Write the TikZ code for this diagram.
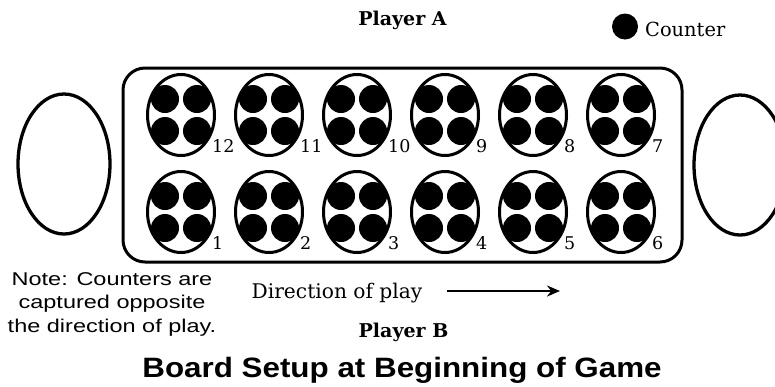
\documentclass[tikz,border=0pt]{standalone}
\usepackage{fontspec}
\setmainfont{DejaVu Serif}
\newfontfamily\notefont[FakeStretch=1.27]{Liberation Sans}
\newfontfamily\titlefont[FakeStretch=1.12]{Liberation Sans}
\usetikzlibrary{shapes.geometric,arrows.meta}
\begin{document}
\begin{tikzpicture}[x=1pt,y=-1pt,
  pit/.style={ellipse, draw, line width=3pt, minimum width=67pt, minimum height=81pt, inner sep=0pt},
  counter/.style={circle, fill, minimum size=28pt, inner sep=0pt},
  store/.style={ellipse, draw, line width=3.3pt, minimum width=92pt, minimum height=140pt, inner sep=0pt},
  num/.style={font=\fontsize{17.5}{17.5}\selectfont, anchor=base west, inner sep=0pt},
  lbl/.style={inner sep=0pt, anchor=base}]
\useasboundingbox (0,0) rectangle (775,386);
% stores
\node[store] (storeL) at (64,164) {};
\node[store] (storeR) at (740,165) {};
% board
\draw[line width=3pt, rounded corners=22pt] (123,68) rectangle (682,262);
% pits
\foreach \i/\tn/\bn in {0/12/1,1/11/2,2/10/3,3/9/4,4/8/5,5/7/6}{
  \pgfmathsetmacro{\cx}{181+88*\i}
  \node[pit] (pit\tn) at (\cx,115) {};
  \node[pit] (pit\bn) at (\cx,212) {};
  \foreach \p in {\tn,\bn}{
    \node[counter] (c\p a) at ([shift={(-16,-16)}]pit\p.center) {};
    \node[counter] (c\p b) at ([shift={(16,-16)}]pit\p.center) {};
    \node[counter] (c\p c) at ([shift={(-16,16)}]pit\p.center) {};
    \node[counter] (c\p d) at ([shift={(16,16)}]pit\p.center) {};
    \node[num] (n\p) at ([shift={(31,37)}]pit\p.center) {\p};
  }
}
% labels
\node[lbl, font=\bfseries\fontsize{19}{19}\selectfont] (playerA) at (402.5,25) {Player A};
\node[lbl, font=\bfseries\fontsize{19}{19}\selectfont] (playerB) at (403.5,337) {Player B};
\node[counter, minimum size=26pt] (legend) at (625,26.5) {};
\node[lbl, anchor=base west, font=\fontsize{19.4}{19.4}\selectfont] (legendtxt) at (645,36) {Counter};
\node[lbl, font=\fontsize{20.2}{20.2}\selectfont] (dir) at (337,298) {Direction of play};
\coordinate (arrS) at (447,291);
\coordinate (arrE) at (560,291);
\draw[line width=2.4pt, -{Stealth[length=13pt,width=11pt]}] (arrS) -- (arrE);
\node[inner sep=0pt, anchor=base, align=center, font=\notefont\fontsize{18.5}{23.5}\selectfont] (note) at (112,332) {Note: Counters are\\captured opposite\\the direction of play.};
\node[lbl, font=\titlefont\bfseries\fontsize{28}{28}\selectfont] (title) at (402,377) {Board Setup at Beginning of Game};
\end{tikzpicture}
\end{document}
